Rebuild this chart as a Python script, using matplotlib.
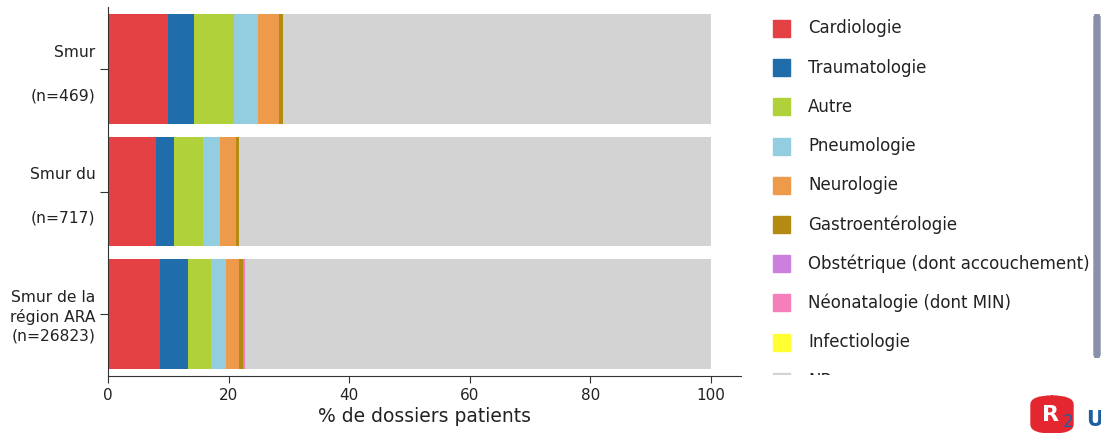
import matplotlib
matplotlib.use("Agg")
import matplotlib.pyplot as plt
from matplotlib.patches import Rectangle, FancyBboxPatch
import numpy as np

plt.rcParams['font.family'] = ['DejaVu Sans']

groups = ["Smur\n \n(n=469)", "Smur du\n \n(n=717)", "Smur de la\nrégion ARA\n(n=26823)"]
categories = ["Cardiologie", "Traumatologie", "Autre", "Pneumologie", "Neurologie",
              "Gastroentérologie", "Obstétrique (dont accouchement)",
              "Néonatalogie (dont MIN)", "Infectiologie", "NR"]
colors = ["#e34144", "#1f6eab", "#b0d13a", "#93cde0", "#ed9b4a",
          "#b38b13", "#cc80dd", "#f57fbb", "#ffff33", "#d3d3d3"]

cardio = [9.9, 8.0, 8.7]
trauma = [4.4, 2.9, 4.5]
autre = [6.6, 4.9, 3.9]
pneumo = [3.9, 2.8, 2.5]
neuro = [3.6, 2.7, 2.1]
gastro = [0.6, 0.5, 0.7]
obst = [0.0, 0.0, 0.1]
neonat = [0.0, 0.0, 0.15]
infect = [0.0, 0.0, 0.05]
series = [cardio, trauma, autre, pneumo, neuro, gastro, obst, neonat, infect]
nr = [100 - sum(s[i] for s in series) for i in range(3)]
series.append(nr)

W, H = 1101, 433
fig = plt.figure(figsize=(W / 100, H / 100), dpi=100)
ax = fig.add_axes([108 / W, 1 - 376 / H, (741 - 108) / W, (376 - 7) / H])

y = np.arange(len(groups))
left = np.zeros(len(groups))
for vals, col, name in zip(series, colors, categories):
    ax.barh(y, vals, left=left, height=0.9, color=col, label=name, linewidth=0)
    left += np.array(vals)

ax.set_xlim(0, 105)
ax.set_ylim(2.51, -0.51)
ax.set_yticks(y)
labels = ax.set_yticklabels(groups, fontsize=11.2, linespacing=1.3, color="#222222")
for lab in labels[:2]:
    lab.set_linespacing(1.55)
ax.set_xticks([0, 20, 40, 60, 80, 100])
ax.tick_params(axis="x", labelsize=11, length=5, color="#333333", labelcolor="#222222")
ax.tick_params(axis="y", length=6, color="#333333", pad=3)
ax.set_xlabel("% de dossiers patients", fontsize=13.5, color="#222222", labelpad=3)
for s in ["top", "right"]:
    ax.spines[s].set_visible(False)
for s in ["left", "bottom"]:
    ax.spines[s].set_color("#333333")

# Legend drawn in its own (clipped) panel
lax = fig.add_axes([760 / W, 1 - 375 / H, (1092 - 760) / W, (375 - 5) / H])
lax.set_xlim(760, 1092)
lax.set_ylim(375, 5)
lax.axis("off")
for i, (name, col) in enumerate(zip(categories, colors)):
    cy = 28.5 + i * 39.2
    lax.add_patch(Rectangle((773, cy - 8.5), 17, 17, color=col, clip_on=True))
    lax.text(808, cy, name, va="center", ha="left", fontsize=12, color="#222222", clip_on=True)

# scrollbar
fig.patches.append(FancyBboxPatch((1094 / W, 1 - 357 / H), 6 / W, 342 / H,
                                  boxstyle="round,pad=0,rounding_size=0.005",
                                  transform=fig.transFigure, color="#8891a7"))

# logo fragment
fig.patches.append(FancyBboxPatch((1031 / W, 1 - 433 / H), 42 / W, 37 / H,
                                  boxstyle="round,pad=0,rounding_size=0.02",
                                  transform=fig.transFigure, color="#e3262f"))
fig.text(1051 / W, 1 - 415 / H, "R", color="white", fontsize=16, fontweight="bold",
         ha="center", va="center")
fig.text(1068 / W, 1 - 422 / H, "2", color="#1f5fa0", fontsize=12, ha="center", va="center")
fig.text(1086 / W, 1 - 420 / H, "U", color="#1f5fa0", fontsize=15, fontweight="bold",
         ha="left", va="center")

fig.savefig("out.png", dpi=100)
